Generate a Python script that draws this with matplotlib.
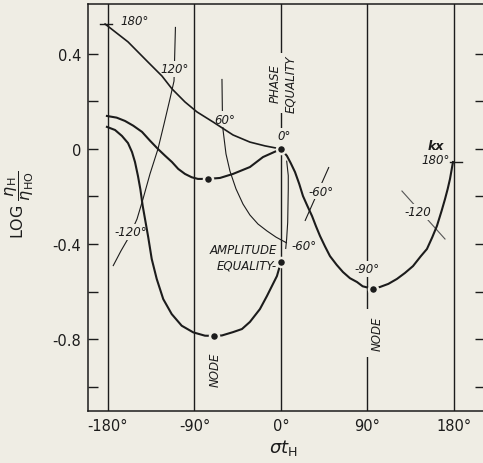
import matplotlib.pyplot as plt

bg = '#efede4'
ink = '#1c1c1c'

# sigma*t_H in degrees, log(eta_H / eta_H0)
kx180_x = [-183, -159.2, -138.4, -123.8, -113.4, -99.9, -87.4, -70.8, -49.9, -32.3, -16.6, 0]
kx180_y = [0.526, 0.451, 0.366, 0.307, 0.253, 0.198, 0.156, 0.114, 0.059, 0.029, 0.013, 0]

phase_x = [-181.1, -171.0, -162.3, -153.7, -144.6, -136.3, -128.0, -120.7, -113.4, -106.9, -99.9,
           -92.9, -86.4, -76.0, -63.5, -49.9, -32.3, -18.7, 0,
           2.4, 6.2, 10.1, 14.6, 19.0, 22.9, 27.4, 32.3, 36.4, 40.6, 45.8, 51.0, 58.0, 64.5,
           71.8, 79.1, 85.0, 95.7, 103.0, 111.7, 120.7, 129.0, 137.4, 145.4, 151.9, 157.4,
           162.3, 167.2, 170.7, 173.5, 175.9, 179.0]
phase_y = [0.139, 0.132, 0.118, 0.098, 0.072, 0.035, 0.0, -0.028, -0.055, -0.084, -0.105,
           -0.119, -0.126, -0.126, -0.122, -0.105, -0.076, -0.034, 0,
           -0.011, -0.029, -0.059, -0.097, -0.147, -0.198, -0.239, -0.282, -0.325, -0.366,
           -0.410, -0.451, -0.488, -0.518, -0.544, -0.560, -0.578, -0.589, -0.581, -0.568,
           -0.547, -0.522, -0.493, -0.452, -0.421, -0.372, -0.324, -0.260, -0.211, -0.168,
           -0.126, -0.055]

amp_x = [-181.1, -172.7, -165.5, -159.2, -155.0, -151.9, -148.8, -146.3, -143.9, -138.1, -134.5,
         -129.3, -122.5, -113.7, -103.3, -91.3, -79.1, -69.7, -61.4, -49.9, -40.6, -32.3, -21.9,
         -14.6, -8.3, -4.2, 0]
amp_y = [0.093, 0.080, 0.055, 0.025, -0.013, -0.055, -0.114, -0.170, -0.239, -0.372, -0.463,
         -0.547, -0.632, -0.695, -0.744, -0.772, -0.786, -0.787, -0.785, -0.771, -0.758, -0.728,
         -0.674, -0.619, -0.568, -0.535, -0.476]

# thin iso-kx lines
kx120_x = [-109.8, -111.3, -115.5, -121.7, -128.0, -136.3, -143.6, -149.8, -158.2, -166.5, -174.8]
kx120_y = [0.514, 0.286, 0.211, 0.105, 0.0, -0.105, -0.211, -0.295, -0.371, -0.429, -0.493]

kx60_x = [-61.4, -61.0, -60.4, -57.2, -53.1, -46.8, -39.5, -32.3, -23.9, -14.6, -5.2, 6.2]
kx60_y = [0.295, 0.168, 0.084, -0.021, -0.093, -0.168, -0.232, -0.278, -0.316, -0.345, -0.371, -0.396]

kx0_x = [5.9, 7.6, 7.6, 7.3, 7.0, 5.9, 4.9]
kx0_y = [-0.049, -0.112, -0.168, -0.239, -0.309, -0.379, -0.421]

kxm60_x = [49.9, 25.0]
kxm60_y = [-0.076, -0.303]

kxm120_x = [125.9, 170.7]
kxm120_y = [-0.177, -0.379]

dots_x = [0, -76.0, -69.7, 0, 95.7]
dots_y = [0, -0.126, -0.787, -0.476, -0.589]

xticks = [-180, -90, 0, 90, 180]
xlabels = ['-180°', '-90°', '0°', '90°', '180°']
yticks = [0.4, 0, -0.4, -0.8]
ylabels = ['0.4', '0', '-0.4', '-0.8']
yminor = [0.2, -0.2, -0.6, -1.0]

fig = plt.figure(figsize=(4.83, 4.64), dpi=100, facecolor=bg)
ax = fig.add_axes([0.1822, 0.1121, 0.8219, 0.8772], facecolor=bg)
ax.set_xlim(-200.8, 212.3)
ax.set_ylim(-1.103, 0.6105)

for s in ax.spines.values():
    s.set_color(ink)
    s.set_linewidth(1.1)

for xv in xticks:
    ax.axvline(xv, color=ink, lw=1.0, zorder=1)

ax.set_xticks(xticks)
ax.set_xticklabels(xlabels, fontsize=10.5, color=ink)
ax.set_yticks(yticks)
ax.set_yticklabels(ylabels, fontsize=10.5, color=ink)
ax.set_yticks(yminor, minor=True)
ax.tick_params(axis='x', length=0, pad=5)
ax.tick_params(axis='y', which='both', direction='in', length=7, width=1.0,
               color=ink, right=True, pad=5)

thin = dict(color=ink, lw=0.8, zorder=2, solid_capstyle='butt')
thick = dict(color=ink, lw=1.5, zorder=4, solid_joinstyle='round')

ax.plot(kx120_x, kx120_y, **thin)
ax.plot(kx60_x, kx60_y, **thin)
ax.plot(kx0_x, kx0_y, **thin)
ax.plot(kxm60_x, kxm60_y, **thin)
ax.plot(kxm120_x, kxm120_y, color='#555555', lw=0.8, zorder=2)

ax.plot(kx180_x, kx180_y, color=ink, lw=1.2, zorder=4)
ax.plot(phase_x, phase_y, **thick)
ax.plot(amp_x, amp_y, **thick)

# short cross ticks at the kx = 180 ends
ax.plot([-188, -176], [0.526, 0.526], color=ink, lw=1.0, zorder=4)
ax.plot([176, 188], [-0.055, -0.055], color=ink, lw=1.0, zorder=4)

ax.plot(dots_x, dots_y, 'o', color=ink, ms=6.5, mec=bg, mew=1.8, zorder=5)

mask = dict(boxstyle='square,pad=0.12', fc=bg, ec='none')
lab = dict(fontsize=8.5, style='italic', color=ink, zorder=3)

ax.text(-167.5, 0.539, '180°', ha='left', va='center', **lab)
ax.text(-110.3, 0.337, '120°', ha='center', va='center', bbox=mask, **lab)
ax.text(-58.3, 0.126, '60°', ha='center', va='center', bbox=mask, **lab)
ax.text(-156.1, -0.349, '-120°', ha='center', va='center', bbox=mask, **lab)
ax.text(3.1, 0.055, '0°', ha='center', va='center', bbox=mask, **lab)
ax.text(2.1, 0.278, 'PHASE\nEQUALITY', ha='center', va='center', rotation=90,
        linespacing=1.3, bbox=mask, **lab)
ax.text(41.6, -0.177, '-60°', ha='center', va='center', bbox=mask, **lab)
ax.text(11.4, -0.408, '-60°', ha='left', va='center', **lab)
ax.text(-4.2, -0.455, 'AMPLITUDE\nEQUALITY-', ha='right', va='center', multialignment='right',
        linespacing=1.2, bbox=dict(boxstyle='square,pad=0.2', fc=bg, ec='none'), **lab)
ax.text(89.5, -0.505, '-90°', ha='center', va='center', bbox=mask, **lab)
ax.text(99.9, -0.775, 'NODE', ha='center', va='center', rotation=90,
        bbox=dict(boxstyle='square,pad=0.55', fc=bg, ec='none'), **lab)
ax.text(-68.7, -0.926, 'NODE', ha='center', va='center', rotation=90, **lab)
ax.text(161.3, 0.013, 'kx', ha='center', va='center', fontsize=9, style='italic',
        weight='bold', color=ink, zorder=3)
ax.text(175.9, -0.046, '180°', ha='right', va='center', **lab)
ax.text(142.6, -0.265, '-120', ha='center', va='center', bbox=mask, **lab)

fig.text(20 / 483, 1 - 205 / 464, r'LOG $\dfrac{\eta_\mathrm{H}}{\eta_\mathrm{HO}}$',
         rotation=90, ha='center', va='center', fontsize=11.5, color=ink)
fig.text(283 / 483, 1 - 448 / 464, r'$\sigma t_\mathrm{H}$', ha='center', va='center',
         fontsize=13, color=ink)

fig.savefig('out.png', dpi=100, facecolor=bg)
